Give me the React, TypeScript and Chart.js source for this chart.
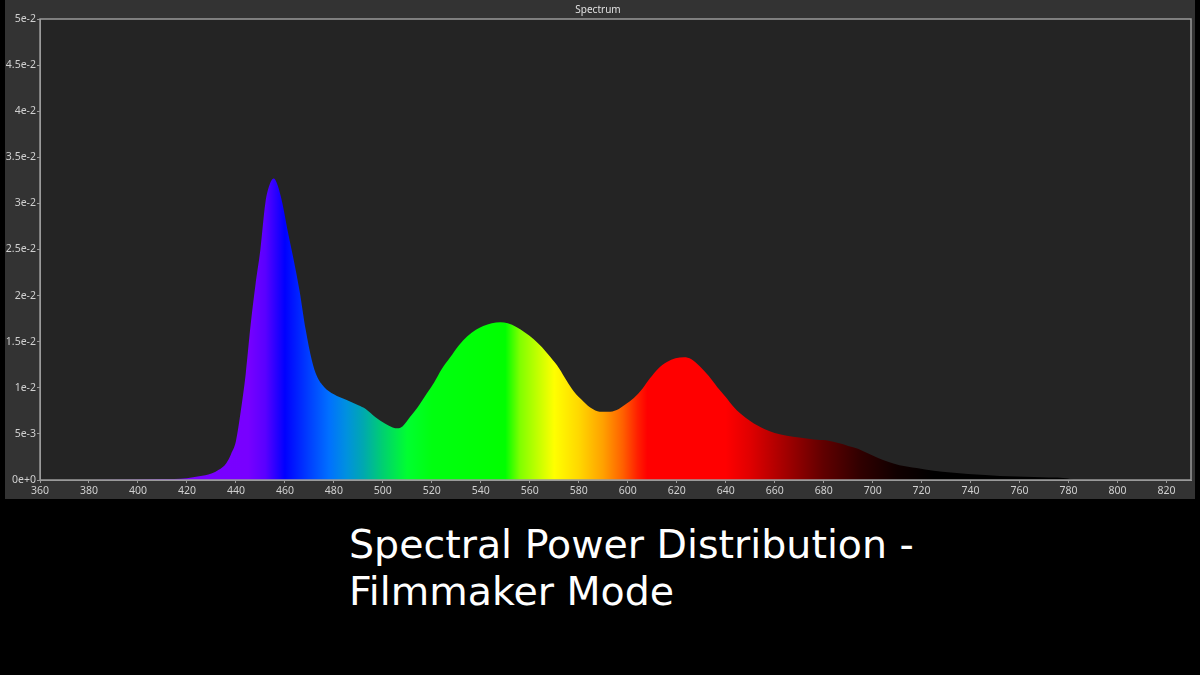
import React, { useEffect, useRef } from "react";
import { Chart, registerables } from "chart.js";

Chart.register(...registerables);

// Wavelengths (nm) and spectral power values
const wavelengths = [
  380, 400, 410, 420, 425, 430, 433, 436, 438, 440, 442, 444, 446, 448, 450, 452, 454, 455.5, 457, 459,
  461, 463.5, 466, 468.5, 471, 473, 476, 480, 485, 490, 493, 497, 501, 504, 506, 508, 511, 514, 518, 521,
  524, 527.5, 531, 534.5, 538, 541, 544.5, 548, 551, 554.5, 558, 561.5, 565, 568.5, 572, 575, 578, 582,
  585, 588.5, 592, 595.5, 599, 602.5, 606, 609, 612.5, 616, 619.5, 623, 626, 629.5, 633, 636.5, 640, 643,
  646, 650, 653, 656, 660, 665, 670, 676, 681, 686, 690, 694, 698, 702, 706, 711, 718, 725, 732, 739, 746,
  752, 759, 766, 772, 779, 782,
];
const power = [
  0, 0.00005, 0.0001, 0.0002, 0.0004, 0.0007, 0.0011, 0.0018, 0.0028, 0.0042, 0.0075, 0.0115, 0.0168,
  0.0212, 0.025, 0.03, 0.0322, 0.0327, 0.032, 0.03, 0.0272, 0.024, 0.0205, 0.0163, 0.013, 0.0113, 0.0101,
  0.0093, 0.0087, 0.0081, 0.0077, 0.0068, 0.0061, 0.0057, 0.0056, 0.0058, 0.0068, 0.0078, 0.0094, 0.0106,
  0.012, 0.0133, 0.0146, 0.0156, 0.0163, 0.0167, 0.017, 0.0171, 0.017, 0.0166, 0.016, 0.0153, 0.0144,
  0.0133, 0.0121, 0.0108, 0.0096, 0.0085, 0.0078, 0.0074, 0.0074, 0.0076, 0.0082, 0.0089, 0.0099, 0.011,
  0.0121, 0.0128, 0.0132, 0.0133, 0.0131, 0.0123, 0.0113, 0.0101, 0.009, 0.008, 0.0072, 0.0064, 0.0059,
  0.0055, 0.0051, 0.0048, 0.0046, 0.0044, 0.0043, 0.004, 0.0037, 0.0034, 0.0029, 0.0024, 0.002, 0.0016,
  0.0013, 0.001, 0.0008, 0.00065, 0.00053, 0.00043, 0.00037, 0.00032, 0.00026, 0.0002, 0,
];

// Spectral colour stops (wavelength nm -> colour)
const stopNm = [
  400, 445, 452, 460, 470, 478, 485, 492, 500, 510, 520, 550, 556, 563, 570, 580, 590, 598, 604, 608, 640,
  650, 665, 680, 695, 710, 725,
];
const stopColor = [
  "#7a00ff", "#7800ff", "#5a00ff", "#0000ff", "#0040ff", "#0070ff", "#0090e0", "#00a8b0", "#00d070",
  "#00ff30", "#00ff10", "#00ff00", "#80ff00", "#c0ff00", "#ffff00", "#ffd800", "#ffa000", "#ff6000",
  "#ff2000", "#ff0000", "#ff0000", "#e00000", "#a00000", "#600000", "#300000", "#100000", "#000000",
];

const yTickLabels = [
  "0e+0", "5e-3", "1e-2", "1.5e-2", "2e-2", "2.5e-2", "3e-2", "3.5e-2", "4e-2", "4.5e-2", "5e-2",
];

const X_MIN = 360;
const X_MAX = 830;
const Y_MAX = 0.05;

const bgPlugin = {
  id: "bgPlugin",
  beforeDraw(chart: any) {
    const { ctx, chartArea, width, height } = chart;
    ctx.save();
    ctx.fillStyle = "#333333";
    ctx.fillRect(0, 0, width, height);
    if (chartArea) {
      ctx.fillStyle = "#242424";
      ctx.fillRect(chartArea.left, chartArea.top, chartArea.right - chartArea.left, chartArea.bottom - chartArea.top);
    }
    ctx.restore();
  },
  afterDraw(chart: any) {
    const { ctx, chartArea } = chart;
    if (!chartArea) return;
    ctx.save();
    ctx.strokeStyle = "#9a9a9a";
    ctx.lineWidth = 1.5;
    ctx.strokeRect(chartArea.left, chartArea.top, chartArea.right - chartArea.left, chartArea.bottom - chartArea.top);
    ctx.restore();
  },
};

export default function App() {
  const canvasRef = useRef<HTMLCanvasElement | null>(null);

  useEffect(() => {
    const canvas = canvasRef.current;
    if (!canvas) return;
    const chart = new Chart(canvas, {
      type: "line",
      data: {
        datasets: [
          {
            data: wavelengths.map((w, i) => ({ x: w, y: power[i] })),
            fill: "origin",
            pointRadius: 0,
            borderWidth: 0,
            cubicInterpolationMode: "monotone",
            backgroundColor: (c: any) => {
              const ch = c.chart;
              const area = ch.chartArea;
              if (!area) return "transparent";
              const xs = ch.scales.x;
              const x0 = xs.getPixelForValue(X_MIN);
              const x1 = xs.getPixelForValue(X_MAX);
              const g = ch.ctx.createLinearGradient(x0, 0, x1, 0);
              stopNm.forEach((nm, i) => {
                const off = (xs.getPixelForValue(nm) - x0) / (x1 - x0);
                g.addColorStop(Math.min(1, Math.max(0, off)), stopColor[i]);
              });
              return g;
            },
          },
        ],
      },
      options: {
        animation: false,
        responsive: true,
        maintainAspectRatio: false,
        layout: { padding: { right: 4, left: 0, top: 0, bottom: 0 } },
        plugins: {
          legend: { display: false },
          tooltip: { enabled: false },
          title: {
            display: true,
            text: "Spectrum",
            color: "#e0e0e0",
            font: { family: "'Noto Sans', sans-serif", size: 10, weight: "normal" },
            padding: { top: 4, bottom: 3 },
          },
        },
        scales: {
          x: {
            type: "linear",
            min: X_MIN,
            max: X_MAX,
            afterFit: (s: any) => {
              s.height = 19;
            },
            ticks: {
              stepSize: 20,
              includeBounds: false,
              autoSkip: false,
              maxRotation: 0,
              color: "#d0d0d0",
              padding: 2,
              font: { family: "'Noto Sans', sans-serif", size: 10.5 },
            },
            grid: { drawOnChartArea: false, drawTicks: true, tickLength: 3, color: "#9a9a9a" },
            border: { display: true, color: "#9a9a9a" },
          },
          y: {
            type: "linear",
            min: 0,
            max: Y_MAX,
            afterFit: (s: any) => {
              s.width = 35;
            },
            ticks: {
              stepSize: 0.005,
              autoSkip: false,
              color: "#d0d0d0",
              padding: 1,
              font: { family: "'Noto Sans', sans-serif", size: 10.5 },
              callback: (_v: any, i: number) => yTickLabels[i],
            },
            grid: { drawOnChartArea: false, drawTicks: true, tickLength: 3, color: "#9a9a9a" },
            border: { display: true, color: "#9a9a9a" },
          },
        },
      },
      plugins: [bgPlugin],
    } as any);
    return () => chart.destroy();
  }, []);

  return (
    <div
      style={{
        position: "fixed",
        left: 0,
        top: 0,
        width: 1200,
        height: 675,
        background: "#000",
        overflow: "hidden",
      }}
    >
      <div style={{ position: "absolute", left: 5, top: 0, width: 1190, height: 499 }}>
        <canvas ref={canvasRef} />
      </div>
      <div
        style={{
          position: "absolute",
          left: 349,
          top: 521,
          color: "#fff",
          fontFamily: "'DejaVu Sans', sans-serif",
          fontSize: 39.5,
          lineHeight: "47px",
          whiteSpace: "nowrap",
        }}
      >
        <div>Spectral Power Distribution -</div>
        <div>Filmmaker Mode</div>
      </div>
    </div>
  );
}
